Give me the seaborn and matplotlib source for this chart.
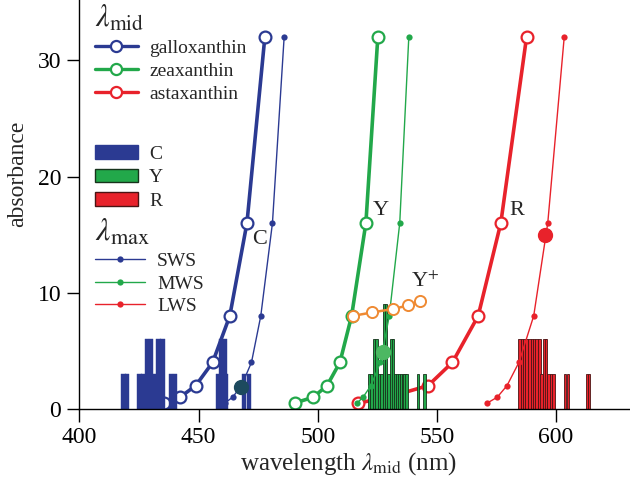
import matplotlib
matplotlib.use("Agg")
import matplotlib.pyplot as plt
import seaborn as sns
import pandas as pd
from matplotlib.lines import Line2D
from matplotlib.patches import Patch

# ---------------- data ----------------
absorbance = [0.5, 1, 2, 4, 8, 16, 32]

# lambda_mid curves (carotenoids)
galloxanthin_nm = [435.5, 442.2, 448.8, 455.9, 463.1, 470.3, 477.8]
zeaxanthin_nm = [490.3, 498.1, 503.9, 509.3, 514.2, 520.2, 525.2]
astaxanthin_nm = [517.0, 529.5, 546.3, 556.5, 567.3, 576.8, 587.6]

# Y+ curve
yplus_nm = [514.6, 522.8, 531.6, 537.9, 542.8]
yplus_abs = [8.0, 8.3, 8.6, 8.9, 9.3]

# lambda_max curves (opsins)
sws_nm = [461.0, 464.3, 468.0, 472.2, 476.1, 481.0, 485.9]
mws_nm = [516.5, 519.0, 522.3, 526.3, 530.0, 534.4, 538.2]
lws_nm = [571.1, 575.3, 579.4, 584.4, 590.6, 596.5, 603.4]

# highlighted points
big_nm = [468.0, 527.4, 595.5]
big_abs = [1.9, 4.9, 15.0]

# oil droplet lambda_mid distributions (bar centres, heights)
c_nm = [418.5, 420.1, 425.2, 426.7, 428.3, 429.9, 431.6, 433.2, 434.9,
        438.3, 440.0, 458.3, 459.5, 460.9, 461.6, 469.2, 471.1]
c_h = [3, 3, 3, 3, 6, 6, 3, 6, 6, 3, 3, 3, 6, 6, 3, 3, 3]

y_nm = [521.6, 522.6, 523.7, 524.7, 525.8, 526.8, 527.9, 528.6, 529.6,
        531.0, 531.6, 532.5, 533.3, 534.1, 534.9, 535.7, 536.5, 537.3,
        542.0, 544.7]
y_h = [3, 3, 6, 6, 3, 3, 9, 9, 3, 6, 6, 3, 3, 3, 3, 3, 3, 3, 3, 3]

r_nm = [584.6, 585.6, 586.6, 587.6, 588.8, 589.8, 590.8, 591.8, 593.0,
        593.9, 595.1, 595.8, 596.8, 597.8, 598.9, 603.8, 605.0, 612.9, 613.9]
r_h = [6, 6, 6, 6, 6, 6, 6, 6, 6, 3, 6, 6, 3, 3, 3, 3, 3, 3, 3]

xticks = [400, 450, 500, 550, 600]
yticks = [0, 10, 20, 30]

# ---------------- style ----------------
BLUE = "#2b3a92"
GREEN = "#22a84a"
RED = "#e8222b"
ORANGE = "#ef8a33"
BIGBLUE = "#1d4a5e"
BIGGREEN = "#4cb862"

sns.set_theme(style="ticks")
plt.rcParams["font.family"] = ["Liberation Serif", "DejaVu Serif"]
plt.rcParams["mathtext.fontset"] = "stix"

fig = plt.figure(figsize=(6.3, 4.92), dpi=100)
ax = fig.add_axes([0.126, 0.169, 0.874, 0.831])

# bars
ax.bar(c_nm, c_h, width=1.8, color=BLUE, edgecolor=BLUE, linewidth=0.3, zorder=2)
ax.bar(y_nm, y_h, width=1.05, color=GREEN, edgecolor="#17331c", linewidth=0.6, zorder=2)
ax.bar(r_nm, r_h, width=1.05, color=RED, edgecolor="#4a1414", linewidth=0.6, zorder=2)

thick = dict(lw=2.6, marker="o", markersize=8.5, markerfacecolor="white",
             markeredgewidth=1.6, zorder=1.5)
for nm, col in [(galloxanthin_nm, BLUE), (zeaxanthin_nm, GREEN), (astaxanthin_nm, RED)]:
    df = pd.DataFrame({"nm": nm, "a": absorbance})
    sns.lineplot(data=df, x="nm", y="a", ax=ax, color=col, sort=False,
                 estimator=None, markeredgecolor=col, **thick)

thin = dict(lw=1.0, marker="o", markersize=4.5, markeredgewidth=0, zorder=3)
for nm, col in [(sws_nm, BLUE), (mws_nm, GREEN), (lws_nm, RED)]:
    df = pd.DataFrame({"nm": nm, "a": absorbance})
    sns.lineplot(data=df, x="nm", y="a", ax=ax, color=col, sort=False,
                 estimator=None, markerfacecolor=col, **thin)

dfy = pd.DataFrame({"nm": yplus_nm, "a": yplus_abs})
sns.lineplot(data=dfy, x="nm", y="a", ax=ax, color=ORANGE, sort=False, estimator=None,
             lw=1.8, marker="o", markersize=8, markerfacecolor="white",
             markeredgecolor=ORANGE, markeredgewidth=1.4, zorder=3.5)

for x, y, col in zip(big_nm, big_abs, [BIGBLUE, BIGGREEN, RED]):
    ax.plot([x], [y], marker="o", markersize=10, color=col, zorder=4, linestyle="none")

# labels on curves
ax.text(475.7, 14.6, "C", fontsize=16, ha="center", va="center")
ax.text(526.5, 17.1, "Y", fontsize=16, ha="center", va="center")
ax.text(583.5, 17.1, "R", fontsize=16, ha="center", va="center")
ax.text(545.0, 10.9, r"Y$^{+}$", fontsize=16, ha="center", va="center")

# axes
ax.set_xlim(400, 631)
ax.set_ylim(0, 35.2)
ax.set_xticks(xticks)
ax.set_yticks(yticks)
ax.tick_params(direction="out", length=9, width=1, labelsize=17, colors="black", pad=4)
for s in ["top", "right"]:
    ax.spines[s].set_visible(False)
for s in ["left", "bottom"]:
    ax.spines[s].set_color("black")
    ax.spines[s].set_linewidth(1.0)
ax.set_xlabel(r"wavelength $\lambda_{\rm mid}$ (nm)", fontsize=18)
ax.set_ylabel("absorbance", fontsize=17)
ax.xaxis.set_label_coords(0.488, -0.10)
ax.yaxis.set_label_coords(-0.093, 0.575)

# legends
h1 = [Line2D([0], [0], color=c, lw=2.4, marker="o", markersize=8, markerfacecolor="white",
             markeredgecolor=c, markeredgewidth=1.6) for c in (BLUE, GREEN, RED)]
leg1 = ax.legend(h1, ["galloxanthin", "zeaxanthin", "astaxanthin"],
                 title=r"$\lambda_{\rm mid}$", title_fontsize=22, fontsize=14,
                 loc="upper left", bbox_to_anchor=(0.028, 0.992), frameon=False,
                 alignment="left", handlelength=2.2, handletextpad=0.6,
                 labelspacing=0.28, borderaxespad=0, borderpad=0)
ax.add_artist(leg1)

h2 = [Patch(facecolor=BLUE, edgecolor=BLUE),
      Patch(facecolor=GREEN, edgecolor="#17331c"),
      Patch(facecolor=RED, edgecolor="#4a1414")]
leg2 = ax.legend(h2, ["C", "Y", "R"], fontsize=14, loc="upper left",
                 bbox_to_anchor=(0.028, 0.645), frameon=False, handlelength=2.2,
                 handletextpad=0.6, labelspacing=0.3, borderaxespad=0, borderpad=0)
ax.add_artist(leg2)

h3 = [Line2D([0], [0], color=c, lw=1.0, marker="o", markersize=4.5, markeredgewidth=0)
      for c in (BLUE, GREEN, RED)]
leg3 = ax.legend(h3, ["SWS", "MWS", "LWS"], title=r"$\lambda_{\rm max}$",
                 title_fontsize=23, fontsize=14, loc="upper left",
                 bbox_to_anchor=(0.028, 0.468), frameon=False, alignment="left",
                 handlelength=2.6, handletextpad=0.6, labelspacing=0.25,
                 borderaxespad=0, borderpad=0)

fig.savefig("out.png", dpi=100)
